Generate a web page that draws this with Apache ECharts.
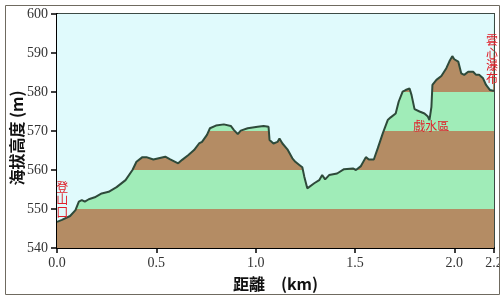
<!DOCTYPE html>
<html>
<head>
<meta charset="utf-8">
<script src="https://cdn.jsdelivr.net/npm/echarts@6/dist/echarts.min.js"></script>
<style>html,body{margin:0;padding:0;background:#fff}#c{width:500px;height:295px}</style>
</head>
<body>
<div id="c"></div>
<script>
var distKm = [0, 0.025, 0.066, 0.093, 0.11, 0.125, 0.14, 0.16, 0.19, 0.225, 0.26, 0.30, 0.345, 0.38, 0.40, 0.43, 0.45, 0.485, 0.545, 0.57, 0.61, 0.63, 0.66, 0.69, 0.715, 0.73, 0.755, 0.77, 0.80, 0.84, 0.875, 0.89, 0.91, 0.925, 0.96, 1.01, 1.04, 1.05, 1.065, 1.07, 1.09, 1.11, 1.12, 1.135, 1.16, 1.185, 1.20, 1.22, 1.235, 1.245, 1.26, 1.27, 1.295, 1.32, 1.335, 1.35, 1.37, 1.41, 1.445, 1.49, 1.505, 1.53, 1.555, 1.57, 1.595, 1.615, 1.64, 1.665, 1.68, 1.705, 1.72, 1.74, 1.755, 1.775, 1.785, 1.80, 1.825, 1.85, 1.867, 1.875, 1.885, 1.89, 1.91, 1.935, 1.96, 1.975, 1.99, 2.0, 2.02, 2.035, 2.05, 2.07, 2.095, 2.11, 2.125, 2.145, 2.16, 2.18, 2.195, 2.2];
var elevation = [546.7, 547.2, 548.2, 549.7, 551.9, 552.3, 551.9, 552.5, 553.0, 554.0, 554.4, 555.6, 557.4, 560.0, 562.1, 563.3, 563.3, 562.7, 563.4, 562.7, 561.7, 562.6, 563.8, 565.1, 566.8, 567.2, 569.0, 570.7, 571.4, 571.7, 571.3, 570.3, 569.2, 570.1, 570.7, 571.1, 571.3, 571.8, 571.1, 567.7, 566.8, 567.2, 568.1, 566.8, 565.3, 563.0, 562.1, 561.3, 560.7, 558.3, 555.3, 555.7, 556.6, 557.4, 558.7, 557.6, 558.7, 559.1, 560.2, 560.4, 560.0, 561.0, 563.3, 562.7, 562.7, 565.6, 569.4, 572.8, 573.5, 574.5, 577.5, 580.1, 580.5, 580.9, 579.2, 575.6, 575.0, 574.5, 573.7, 572.8, 576.2, 581.8, 583.1, 584.1, 586.1, 587.8, 589.2, 588.4, 587.8, 584.8, 584.4, 585.2, 585.2, 584.4, 584.4, 583.5, 581.8, 580.5, 580.3, 580.3];
var bandEdges = [540, 550, 560, 570, 580, 590, 600];
var bandColors = ['#b48c64', '#a0ecb8', '#b48c64', '#a0ecb8', '#b48c64', '#a0ecb8'];
var annotations = [
  {text: '登\n山\n口', x: 0.027, y: 552.4},
  {text: '戲水區', x: 1.884, y: 571.1},
  {text: '雲\n心\n瀑\n布', x: 2.19, y: 588.4}
];
var xTickInterval = 0.5;

var profile = distKm.map(function (d, i) { return [d, elevation[i]]; });
var bands = [];
for (var i = 0; i < bandEdges.length - 1; i++) {
  bands.push([{yAxis: bandEdges[i], itemStyle: {color: bandColors[i], opacity: 1}}, {yAxis: bandEdges[i + 1]}]);
}
var chart = echarts.init(document.getElementById('c'), null, {renderer: 'canvas'});
var serif = '"Liberation Serif", "DejaVu Serif", serif';
var cjk = '"Noto Sans CJK TC", "Noto Sans CJK SC", sans-serif';
chart.setOption({
  animation: false,
  backgroundColor: '#ffffff',
  graphic: [{
    type: 'rect', left: 3, top: 3, shape: {width: 494, height: 289},
    style: {fill: 'none', stroke: '#6f6a60', lineWidth: 1}, z: 100
  }],
  grid: {left: 57, right: 6, top: 14, bottom: 47, containLabel: false, outerBoundsMode: 'none',
    show: true, backgroundColor: '#e0fafc', borderColor: '#3c4a44', borderWidth: 2},
  xAxis: {
    type: 'value', min: 0, max: 2.2, interval: xTickInterval,
    name: '距離　(km)', nameLocation: 'middle', nameGap: 28, nameMoveOverlap: false,
    nameTextStyle: {fontFamily: cjk, fontSize: 16, fontWeight: 'bold', color: '#111'},
    axisLine: {lineStyle: {color: '#000', width: 2}},
    axisTick: {length: 5, lineStyle: {color: '#000', width: 1.5}},
    axisLabel: {fontFamily: serif, fontSize: 14, color: '#333', margin: 8, showMaxLabel: true,
      formatter: function (v) { return v.toFixed(1); }},
    splitLine: {show: false}
  },
  yAxis: {
    type: 'value', min: 540, max: 600, interval: 10,
    name: '海拔高度 (m)', nameLocation: 'middle', nameGap: 32, nameRotate: 90, nameMoveOverlap: false,
    nameTextStyle: {fontFamily: cjk, fontSize: 16, fontWeight: 'bold', color: '#111', padding: [0, 14, 0, 0]},
    axisLine: {lineStyle: {color: '#000', width: 2}},
    axisTick: {length: 6, lineStyle: {color: '#000', width: 1.5}},
    axisLabel: {fontFamily: serif, fontSize: 14, color: '#333', margin: 9},
    splitLine: {show: false}
  },
  series: [{
    type: 'line',
    data: profile,
    symbol: 'none',
    smooth: false,
    lineStyle: {color: '#2e4a3a', width: 2},
    areaStyle: {origin: 'end', color: '#e0fafc', opacity: 1},
    markArea: {silent: true, data: bands},
    markPoint: {
      silent: true,
      symbol: 'rect', symbolSize: 1,
      itemStyle: {color: 'rgba(0,0,0,0)'},
      label: {show: true, position: 'inside', color: '#e0202a', fontFamily: cjk, fontSize: 12, lineHeight: 12.5,
        formatter: function (p) { return p.data.labelText; }},
      data: annotations.map(function (a) { return {coord: [a.x, a.y], labelText: a.text}; })
    }
  }]
});
</script>
</body>
</html>
